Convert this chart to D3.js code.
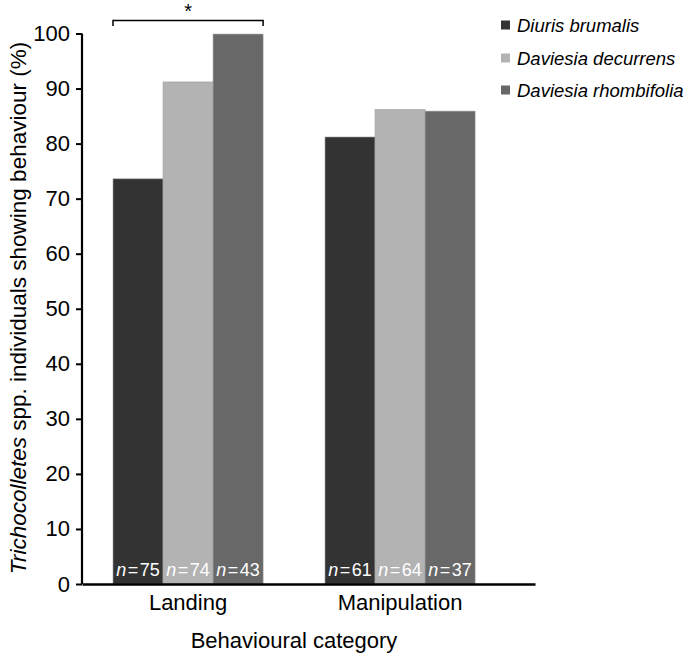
<!DOCTYPE html>
<html>
<head>
<meta charset="utf-8">
<script src="https://cdn.jsdelivr.net/npm/d3@7"></script>
<style>
  body { margin: 0; background: #fff; }
  text { font-family: "Liberation Sans", Arial, sans-serif; }
</style>
</head>
<body>
<div id="viz"></div>
<script>
const categories = ['Landing', 'Manipulation'];
const species = ['Diuris brumalis', 'Daviesia decurrens', 'Daviesia rhombifolia'];
const values = {
    'Diuris brumalis': [73.6, 81.2],
    'Daviesia decurrens': [91.2, 86.2],
    'Daviesia rhombifolia': [99.9, 85.9]
};
const counts = {
    'Diuris brumalis': [75, 61],
    'Daviesia decurrens': [74, 64],
    'Daviesia rhombifolia': [43, 37]
};
const yTicks = [0, 10, 20, 30, 40, 50, 60, 70, 80, 90, 100];

const width = 690, height = 655;
const colors = d3.scaleOrdinal()
    .domain(species)
    .range(['#333333', '#b3b3b3', '#686868']);

const svg = d3.select('#viz')
    .append('svg')
    .attr('width', width)
    .attr('height', height);

let y = d3.scaleLinear()
    .domain([0, 100])
    .range([584, 33.5]);

let x = d3.scaleBand()
    .domain(categories)
    .range([82, 535])
    .paddingInner(0.292)
    .paddingOuter(0.2144)
    .align(0.341);

let xs = d3.scaleBand()
    .domain(species)
    .range([0, x.bandwidth()]);

// bars
let rows = [];
categories.forEach((c, ci) => {
    species.forEach(s => {
        rows.push({ cat: c, sp: s, v: values[s][ci], n: counts[s][ci] });
    });
});

svg.selectAll('rect.bar').data(rows)
    .enter()
    .append('rect')
    .attr('class', 'bar')
    .attr('x', d => x(d.cat) + xs(d.sp))
    .attr('width', xs.bandwidth())
    .attr('y', d => y(d.v))
    .attr('height', d => y(0) - y(d.v))
    .attr('fill', d => colors(d.sp))
    .attr('stroke', '#a0a0a0')
    .attr('stroke-width', 0.6);

// n labels
let nLab = svg.selectAll('text.n').data(rows)
    .enter()
    .append('text')
    .attr('class', 'n')
    .attr('x', d => x(d.cat) + xs(d.sp) + xs.bandwidth() / 2)
    .attr('y', 576)
    .attr('text-anchor', 'middle')
    .attr('fill', '#fff')
    .style('font-size', '18px');
nLab.append('tspan').style('font-style', 'italic').text('n');
nLab.append('tspan').text(d => '\u200a=\u200a' + d.n);

// y axis
let yAxis = svg.append('g')
    .attr('transform', 'translate(82,0)')
    .call(d3.axisLeft(y).tickValues(yTicks).tickSize(6).tickPadding(6));
yAxis.select('.domain').attr('stroke', '#000').attr('stroke-width', 2.2)
    .attr('d', 'M0,' + y(100) + 'V' + y(0));
yAxis.selectAll('.tick line').attr('stroke', '#000').attr('stroke-width', 2);
yAxis.selectAll('.tick text')
    .style('font-size', '22px')
    .attr('fill', '#000')
    .attr('font-family', '"Liberation Sans", Arial, sans-serif');

// x axis
let xAxis = svg.append('g')
    .attr('transform', 'translate(0,' + y(0) + ')')
    .call(d3.axisBottom(x).tickSize(0).tickPadding(10).tickSizeOuter(0));
xAxis.select('.domain').attr('stroke', '#000').attr('stroke-width', 2.4);
xAxis.selectAll('.tick text')
    .style('font-size', '22px')
    .attr('fill', '#000')
    .attr('font-family', '"Liberation Sans", Arial, sans-serif');

// axis titles
svg.append('text')
    .attr('x', 294)
    .attr('y', 648)
    .attr('text-anchor', 'middle')
    .style('font-size', '22px')
    .text('Behavioural category');

let yt = svg.append('text')
    .attr('transform', 'translate(26,308) rotate(-90)')
    .attr('text-anchor', 'middle')
    .style('font-size', '22.5px');
yt.append('tspan').style('font-style', 'italic').text('Trichocolletes');
yt.append('tspan').text(' spp. individuals showing behaviour (%)');

// significance bracket over Landing
let bx0 = x('Landing'), bx1 = x('Landing') + x.bandwidth();
svg.append('path')
    .attr('d', `M${bx0},26V20.5H${bx1}V26`)
    .attr('fill', 'none')
    .attr('stroke', '#000')
    .attr('stroke-width', 1.5);
svg.append('text')
    .attr('x', (bx0 + bx1) / 2)
    .attr('y', 18)
    .attr('text-anchor', 'middle')
    .style('font-size', '20px')
    .text('*');

// legend
let legend = svg.selectAll('g.legend').data(species)
    .enter()
    .append('g')
    .attr('class', 'legend')
    .attr('transform', (d, i) => 'translate(501,' + [25, 58, 90][i] + ')');
legend.append('rect')
    .attr('x', 0)
    .attr('y', -4.5)
    .attr('width', 9)
    .attr('height', 9)
    .attr('fill', d => colors(d));
legend.append('text')
    .attr('x', 16)
    .attr('y', 6.5)
    .style('font-size', '18.5px')
    .style('font-style', 'italic')
    .text(d => d);
</script>
</body>
</html>
